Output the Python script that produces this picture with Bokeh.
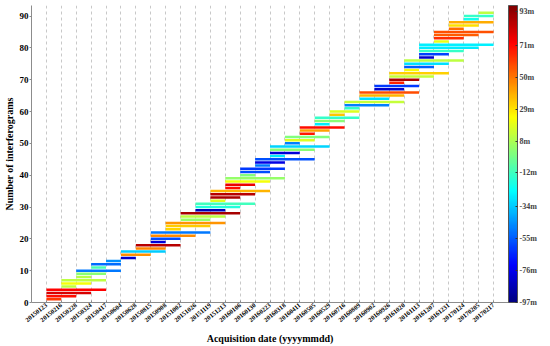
import numpy as np
from bokeh.plotting import figure
from bokeh.models import (ColumnDataSource, LinearColorMapper, ColorBar, FixedTicker,
                          Range1d, PrintfTickFormatter)
from bokeh.transform import transform
from bokeh.embed import file_html
from bokeh.resources import INLINE

# ---------------- data ----------------
dates = ["20150123", "20150216", "20150228", "20150324", "20150417", "20150604",
         "20150628", "20150815", "20150908", "20151002", "20151026", "20151119",
         "20151213", "20160106", "20160130", "20160223", "20160318", "20160411",
         "20160505", "20160529", "20160716", "20160809", "20160902", "20160926",
         "20161020", "20161113", "20161207", "20161231", "20170124", "20170205",
         "20170217"]

master = [0, 0, 0, 0, 1, 1, 1, 2, 2, 2, 3, 3, 4, 5, 5, 5, 6, 6, 7, 7,
          7, 7, 8, 8, 8, 9, 9, 9, 10, 10, 10, 11, 11, 11, 11, 12, 12, 12, 12, 13,
          13, 13, 14, 14, 14, 15, 15, 15, 15, 16, 16, 16, 17, 17, 17, 18, 18, 18, 19, 19,
          20, 20, 20, 21, 21, 21, 22, 22, 23, 23, 23, 23, 24, 24, 24, 24, 25, 25, 25, 25,
          25, 26, 26, 26, 26, 27, 27, 27, 28, 28, 29]
slave = [1, 2, 3, 4, 2, 3, 4, 3, 4, 5, 4, 5, 5, 6, 7, 8, 8, 9, 8, 9,
         10, 11, 9, 11, 12, 11, 12, 13, 12, 13, 14, 12, 13, 14, 15, 13, 14, 15, 16, 14,
         15, 16, 15, 16, 18, 16, 17, 18, 19, 17, 18, 19, 18, 19, 20, 19, 20, 21, 20, 21,
         21, 23, 24, 23, 24, 25, 24, 25, 24, 25, 26, 27, 25, 26, 27, 28, 26, 27, 28, 29,
         30, 27, 28, 29, 30, 28, 29, 30, 29, 30, 30]
bperp = [62, 70, 80, 72, 12, 22, 12, 10, 2, -50, -10, -52, -45, -82, 45, -34, 47, 86, -80, -58,
         46, -50, 32, 34, 44, 4, 12, 89, -86, -18, -12, 18, 88, 86, 38, 70, 76, 22, 4, 0,
         -58, -62, -50, -78, -57, -28, -80, 2, -32, -48, 18, 0, 68, 42, 70, -28, 2, -14, 35, 18,
         -14, -48, 13, -30, 38, 58, -82, -62, 66, 88, 13, 33, 22, -55, -30, 12, -82, -60, -14, -28,
         -27, 20, 64, 55, 57, 52, 30, 40, -20, -14, 12]
ifg_no = list(range(1, len(master) + 1))

y_ticks = [0, 10, 20, 30, 40, 50, 60, 70, 80, 90]
cbar_ticks = [-97, -76, -55, -34, -12, 8, 29, 50, 71, 93]
cbar_low, cbar_high = -97, 97


def jet(n=256):
    cols = []
    for i in range(n):
        t = i / (n - 1)
        r = np.clip(1.5 - abs(4 * t - 3), 0, 1)
        g = np.clip(1.5 - abs(4 * t - 2), 0, 1)
        b = np.clip(1.5 - abs(4 * t - 1), 0, 1)
        cols.append("#%02x%02x%02x" % (int(r * 255), int(g * 255), int(b * 255)))
    return cols


FONT = "Liberation Serif"

src = ColumnDataSource(dict(x0=master, x1=slave, y=ifg_no, v=bperp))
mapper = LinearColorMapper(palette=jet(), low=cbar_low, high=cbar_high)

p = figure(width=550, height=346, output_backend="svg", toolbar_location=None,
           x_range=Range1d(-1, len(dates)), y_range=Range1d(0, 93.3),
           min_border_left=28, min_border_right=42, min_border_top=5, min_border_bottom=41)
p.outline_line_color = None
p.background_fill_color = "white"

p.segment(x0="x0", x1="x1", y0="y", y1="y", source=src, line_width=2.5,
          line_color=transform("v", mapper))

# x axis
p.xaxis.ticker = FixedTicker(ticks=list(range(len(dates))))
p.xaxis.major_label_overrides = {i: d for i, d in enumerate(dates)}
p.xaxis.major_label_orientation = 0.68
p.xaxis.major_label_text_font = FONT
p.xaxis.major_label_text_font_style = "bold"
p.xaxis.major_label_text_font_size = "6.5px"
p.xaxis.major_label_standoff = 2
p.xaxis.axis_label = "Acquisition date (yyyymmdd)"
p.xaxis.axis_label_text_font = FONT
p.xaxis.axis_label_text_font_style = "bold"
p.xaxis.axis_label_text_font_size = "10px"
p.xaxis.axis_label_standoff = 6
p.xaxis.major_tick_out = 0
p.xaxis.major_tick_in = 2
p.xaxis.minor_tick_line_color = None

# y axis
p.yaxis.ticker = FixedTicker(ticks=y_ticks)
p.yaxis.major_label_text_font = FONT
p.yaxis.major_label_text_font_style = "bold"
p.yaxis.major_label_text_font_size = "9px"
p.yaxis.major_label_standoff = 1
p.yaxis.axis_label = "Number of interferograms"
p.yaxis.axis_label_text_font = FONT
p.yaxis.axis_label_text_font_style = "bold"
p.yaxis.axis_label_text_font_size = "10px"
p.yaxis.axis_label_standoff = 2
p.yaxis.major_tick_out = 2
p.yaxis.major_tick_in = 0
p.yaxis.minor_tick_line_color = None

for ax in (p.xaxis, p.yaxis):
    ax.axis_line_color = "#8c8c8c"
    ax.major_tick_line_color = "#8c8c8c"
    ax.major_label_text_color = "black"
    ax.axis_label_text_color = "black"

p.xgrid.grid_line_color = "#c8c8c8"
p.xgrid.grid_line_dash = "3 3"
p.xgrid.grid_line_width = 1
p.ygrid.grid_line_color = None

cb = ColorBar(color_mapper=mapper, ticker=FixedTicker(ticks=cbar_ticks),
              formatter=PrintfTickFormatter(format="%dm"),
              width=9, padding=0, margin=7, label_standoff=2,
              major_label_text_font=FONT, major_label_text_font_style="bold",
              major_label_text_font_size="8px",
              major_tick_line_color="#333333", major_tick_in=2, major_tick_out=0,
              bar_line_color="#555555", border_line_color=None)
p.add_layout(cb, "right")

open("out.html", "w").write(file_html(p, INLINE))
